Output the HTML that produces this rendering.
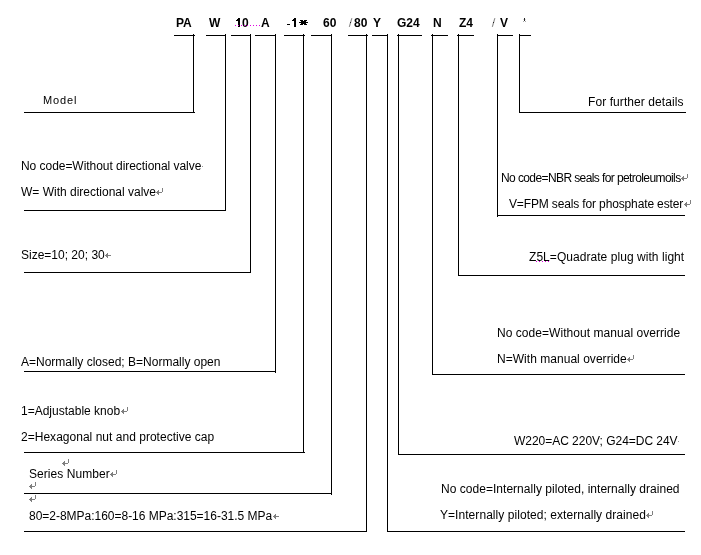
<!DOCTYPE html>
<html><head><meta charset="utf-8"><style>
html,body{margin:0;padding:0;background:#fff;width:701px;height:555px;overflow:hidden;position:relative}
.t,.h{position:absolute;white-space:nowrap;font-family:"Liberation Sans",sans-serif;line-height:14px;color:#000;font-size:12px}
.h{font-weight:bold}
.t,.h{will-change:transform}
.sl{font-weight:normal;color:#555}
</style></head><body>
<div class="t" style="left:43.3px;top:93px;font-size:11px;letter-spacing:0.875px">Model</div>
<div class="t" style="left:21.3px;top:159px;letter-spacing:-0.044px">No code=Without directional valve</div>
<div class="t" style="left:21px;top:185px">W= With directional valve</div>
<div class="t" style="left:21.3px;top:248px">Size=10; 20; 30</div>
<div class="t" style="left:21px;top:355px">A=Normally closed; B=Normally open</div>
<div class="t" style="left:21.3px;top:404px">1=Adjustable knob</div>
<div class="t" style="left:21.3px;top:430px;letter-spacing:0.021px">2=Hexagonal nut and protective cap</div>
<div class="t" style="left:29.3px;top:467px;letter-spacing:0.059px">Series Number</div>
<div class="t" style="left:29.3px;top:509px;letter-spacing:-0.019px">80=2-8MPa:160=8-16 MPa:315=16-31.5 MPa</div>
<div class="t" style="left:588.3px;top:95px;letter-spacing:0.078px">For further details</div>
<div class="t" style="left:501.3px;top:171px;letter-spacing:-0.597px">No code=NBR seals for petroleumoils</div>
<div class="t" style="left:509px;top:197px;letter-spacing:-0.14px">V=FPM seals for phosphate ester</div>
<div class="t" style="left:529px;top:250px;letter-spacing:0.052px">Z5L=Quadrate plug with light</div>
<div class="t" style="left:497.3px;top:326px;letter-spacing:0.047px">No code=Without manual override</div>
<div class="t" style="left:497.3px;top:352px;letter-spacing:0.033px">N=With manual override</div>
<div class="t" style="left:514px;top:434px;letter-spacing:-0.03px">W220=AC 220V; G24=DC 24V</div>
<div class="t" style="left:441.3px;top:482px;letter-spacing:0.031px">No code=Internally piloted, internally drained</div>
<div class="t" style="left:440.3px;top:508px;letter-spacing:0.054px">Y=Internally piloted; externally drained</div>
<div class="h" style="left:176px;top:16px">PA</div>
<div class="h" style="left:208.5px;top:16px">W</div>
<div class="h" style="left:241.67px;top:16px">0</div>
<div class="h" style="left:260.5px;top:16px">A</div>
<div class="h" style="left:322.5px;top:16px">60</div>
<div class="h" style="left:353.5px;top:16px">80</div>
<div class="h" style="left:372.5px;top:16px">Y</div>
<div class="h" style="left:396.5px;top:16px">G24</div>
<div class="h" style="left:433px;top:16px">N</div>
<div class="h" style="left:459px;top:16px">Z4</div>
<div class="h" style="left:500px;top:16px">V</div>
<svg width="701" height="555" viewBox="0 0 701 555" shape-rendering="crispEdges" style="position:absolute;left:0;top:0">
<g fill="#000"><rect x="174" y="35" width="21" height="1"/>
<rect x="193" y="34" width="1" height="79"/>
<rect x="24" y="112" width="171" height="1"/>
<rect x="206" y="35" width="20" height="1"/>
<rect x="225" y="34" width="1" height="177"/>
<rect x="24" y="210" width="202" height="1"/>
<rect x="231" y="35" width="20" height="1"/>
<rect x="250" y="34" width="1" height="239"/>
<rect x="24" y="272" width="227" height="1"/>
<rect x="255" y="35" width="21" height="1"/>
<rect x="275" y="34" width="1" height="339"/>
<rect x="24" y="371" width="252" height="1"/>
<rect x="284" y="35" width="21" height="1"/>
<rect x="303" y="34" width="1" height="419"/>
<rect x="24" y="452" width="281" height="1"/>
<rect x="311" y="35" width="21" height="1"/>
<rect x="331" y="34" width="1" height="461"/>
<rect x="24" y="493" width="308" height="1"/>
<rect x="348" y="35" width="20" height="1"/>
<rect x="366" y="34" width="1" height="498"/>
<rect x="24" y="531" width="343" height="1"/>
<rect x="372" y="35" width="16" height="1"/>
<rect x="387" y="34" width="1" height="498"/>
<rect x="387" y="531" width="298" height="1"/>
<rect x="397" y="35" width="25" height="1"/>
<rect x="398" y="34" width="1" height="421"/>
<rect x="398" y="454" width="287" height="1"/>
<rect x="431" y="35" width="17" height="1"/>
<rect x="432" y="34" width="1" height="341"/>
<rect x="432" y="374" width="253" height="1"/>
<rect x="457" y="35" width="17" height="1"/>
<rect x="458" y="34" width="1" height="242"/>
<rect x="458" y="275" width="227" height="1"/>
<rect x="497" y="35" width="16" height="1"/>
<rect x="497" y="34" width="1" height="183"/>
<rect x="497" y="215" width="188" height="1"/>
<rect x="519" y="35" width="12" height="1"/>
<rect x="519" y="34" width="1" height="79"/>
<rect x="519" y="112" width="167" height="1"/></g>
<g fill="#7f7f7f"><rect x="162" y="188" width="1" height="1"/><rect x="162" y="189" width="1" height="1"/><rect x="158" y="190" width="1" height="1"/><rect x="162" y="190" width="1" height="1"/><rect x="157" y="191" width="2" height="1"/><rect x="162" y="191" width="1" height="1"/><rect x="156" y="192" width="6" height="1"/><rect x="157" y="193" width="2" height="1"/><rect x="158" y="194" width="1" height="1"/></g>
<g fill="#7f7f7f"><rect x="127" y="407" width="1" height="1"/><rect x="127" y="408" width="1" height="1"/><rect x="123" y="409" width="1" height="1"/><rect x="127" y="409" width="1" height="1"/><rect x="122" y="410" width="2" height="1"/><rect x="127" y="410" width="1" height="1"/><rect x="121" y="411" width="6" height="1"/><rect x="122" y="412" width="2" height="1"/><rect x="123" y="413" width="1" height="1"/></g>
<g fill="#7f7f7f"><rect x="68" y="459" width="1" height="1"/><rect x="68" y="460" width="1" height="1"/><rect x="64" y="461" width="1" height="1"/><rect x="68" y="461" width="1" height="1"/><rect x="63" y="462" width="2" height="1"/><rect x="68" y="462" width="1" height="1"/><rect x="62" y="463" width="6" height="1"/><rect x="63" y="464" width="2" height="1"/><rect x="64" y="465" width="1" height="1"/></g>
<g fill="#7f7f7f"><rect x="116" y="470" width="1" height="1"/><rect x="116" y="471" width="1" height="1"/><rect x="112" y="472" width="1" height="1"/><rect x="116" y="472" width="1" height="1"/><rect x="111" y="473" width="2" height="1"/><rect x="116" y="473" width="1" height="1"/><rect x="110" y="474" width="6" height="1"/><rect x="111" y="475" width="2" height="1"/><rect x="112" y="476" width="1" height="1"/></g>
<g fill="#7f7f7f"><rect x="35" y="482" width="1" height="1"/><rect x="35" y="483" width="1" height="1"/><rect x="31" y="484" width="1" height="1"/><rect x="35" y="484" width="1" height="1"/><rect x="30" y="485" width="2" height="1"/><rect x="35" y="485" width="1" height="1"/><rect x="29" y="486" width="6" height="1"/><rect x="30" y="487" width="2" height="1"/><rect x="31" y="488" width="1" height="1"/></g>
<g fill="#7f7f7f"><rect x="35" y="495" width="1" height="1"/><rect x="35" y="496" width="1" height="1"/><rect x="31" y="497" width="1" height="1"/><rect x="35" y="497" width="1" height="1"/><rect x="30" y="498" width="2" height="1"/><rect x="35" y="498" width="1" height="1"/><rect x="29" y="499" width="6" height="1"/><rect x="30" y="500" width="2" height="1"/><rect x="31" y="501" width="1" height="1"/></g>
<g fill="#7f7f7f"><rect x="687" y="174" width="1" height="1"/><rect x="687" y="175" width="1" height="1"/><rect x="683" y="176" width="1" height="1"/><rect x="687" y="176" width="1" height="1"/><rect x="682" y="177" width="2" height="1"/><rect x="687" y="177" width="1" height="1"/><rect x="681" y="178" width="6" height="1"/><rect x="682" y="179" width="2" height="1"/><rect x="683" y="180" width="1" height="1"/></g>
<g fill="#7f7f7f"><rect x="690" y="200" width="1" height="1"/><rect x="690" y="201" width="1" height="1"/><rect x="686" y="202" width="1" height="1"/><rect x="690" y="202" width="1" height="1"/><rect x="685" y="203" width="2" height="1"/><rect x="690" y="203" width="1" height="1"/><rect x="684" y="204" width="6" height="1"/><rect x="685" y="205" width="2" height="1"/><rect x="686" y="206" width="1" height="1"/></g>
<g fill="#7f7f7f"><rect x="633" y="355" width="1" height="1"/><rect x="633" y="356" width="1" height="1"/><rect x="629" y="357" width="1" height="1"/><rect x="633" y="357" width="1" height="1"/><rect x="628" y="358" width="2" height="1"/><rect x="633" y="358" width="1" height="1"/><rect x="627" y="359" width="6" height="1"/><rect x="628" y="360" width="2" height="1"/><rect x="629" y="361" width="1" height="1"/></g>
<g fill="#7f7f7f"><rect x="652" y="511" width="1" height="1"/><rect x="652" y="512" width="1" height="1"/><rect x="648" y="513" width="1" height="1"/><rect x="652" y="513" width="1" height="1"/><rect x="647" y="514" width="2" height="1"/><rect x="652" y="514" width="1" height="1"/><rect x="646" y="515" width="6" height="1"/><rect x="647" y="516" width="2" height="1"/><rect x="648" y="517" width="1" height="1"/></g>
<g fill="#7f7f7f"><rect x="107" y="253" width="1" height="1"/><rect x="106" y="254" width="2" height="1"/><rect x="105" y="255" width="6" height="1"/><rect x="106" y="256" width="2" height="1"/><rect x="107" y="257" width="1" height="1"/></g>
<g fill="#7f7f7f"><rect x="275" y="514" width="1" height="1"/><rect x="274" y="515" width="2" height="1"/><rect x="273" y="516" width="6" height="1"/><rect x="274" y="517" width="2" height="1"/><rect x="275" y="518" width="1" height="1"/></g>
<rect x="202" y="166" width="1" height="1" fill="#999"/>
<rect x="678" y="441" width="1" height="1" fill="#999"/>
<g fill="#000"><rect x="300" y="20" width="3" height="1"/><rect x="304" y="20" width="3" height="1"/><rect x="301" y="21" width="5" height="3"/><rect x="299" y="22" width="9" height="1"/><rect x="300" y="24" width="3" height="1"/><rect x="304" y="24" width="3" height="1"/></g>
<g fill="#000"><rect x="238" y="18" width="2" height="9"/><rect x="236" y="20" width="1" height="1"/><rect x="237" y="19" width="1" height="2"/><rect x="287" y="24" width="3" height="1"/><rect x="294" y="18" width="2" height="9"/><rect x="292" y="20" width="1" height="1"/><rect x="293" y="19" width="1" height="2"/></g>
<g shape-rendering="auto" stroke="#8a8a8a" stroke-width="1.1" fill="none"><path d="M351.9 18.2L349.3 26.8"/><path d="M494.9 18.2L492.3 26.8"/></g><rect x="350" y="22" width="1" height="1" fill="#222"/><rect x="493" y="22" width="1" height="1" fill="#222"/>
<rect x="524" y="18" width="1" height="3" fill="#222"/><rect x="523" y="21" width="1" height="1" fill="#aaa"/><rect x="525" y="21" width="1" height="1" fill="#aaa"/><rect x="523" y="19" width="1" height="1" fill="#ddd"/><rect x="525" y="19" width="1" height="1" fill="#ddd"/>
<g fill="#e000e0"><rect x="235" y="25" width="1" height="1"/><rect x="238" y="25" width="1" height="1"/><rect x="241" y="25" width="1" height="1"/><rect x="244" y="25" width="1" height="1"/><rect x="247" y="25" width="1" height="1"/><rect x="250" y="25" width="1" height="1"/><rect x="253" y="25" width="1" height="1"/><rect x="256" y="25" width="1" height="1"/><rect x="259" y="25" width="1" height="1"/><rect x="536" y="261" width="1" height="1"/><rect x="539" y="261" width="1" height="1"/><rect x="542" y="261" width="1" height="1"/><rect x="545" y="261" width="1" height="1"/><rect x="548" y="261" width="1" height="1"/></g>
</svg>
</body></html>
